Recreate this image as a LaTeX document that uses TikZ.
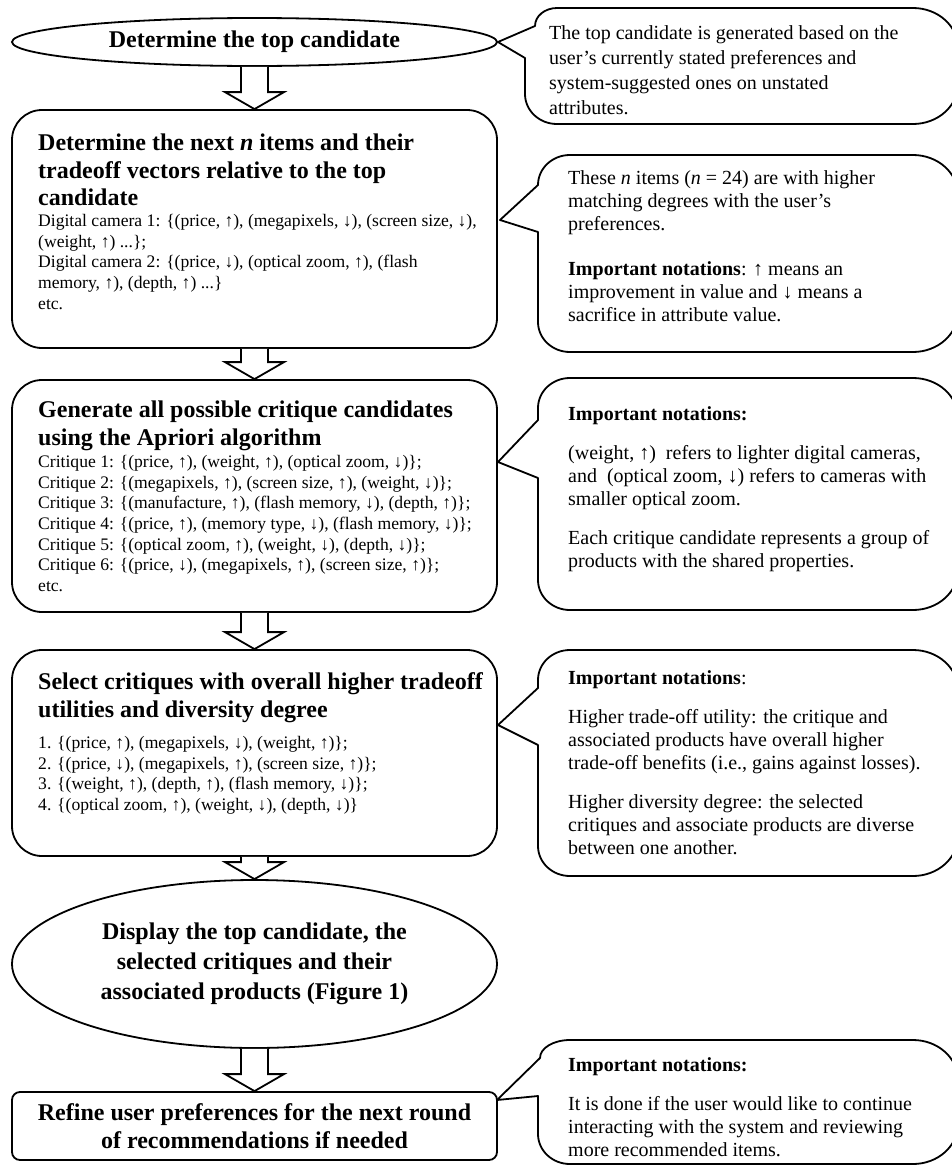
\documentclass[tikz,border=0pt]{standalone}
\usepackage{fontspec}
\setmainfont{Liberation Serif}
\usetikzlibrary{shapes.geometric,calc}
\tikzset{
  flowbox/.style={draw, line width=1.8pt, rounded corners=30pt, minimum width=485pt, inner sep=0pt},
  ellbox/.style={draw, ellipse, line width=1.8pt, minimum width=485pt, inner sep=0pt, align=center},
  titletext/.style={anchor=north west, inner sep=0pt, align=left, font=\fontsize{24}{27.6}\selectfont\bfseries},
  bodytext/.style={anchor=north west, inner sep=0pt, align=left, font=\fontsize{17.6}{20.7}\selectfont},
  notetext/.style={anchor=north west, inner sep=0pt, align=left, font=\fontsize{20}{23}\selectfont},
  co/.style={draw, line width=1.8pt, line join=round},
  blk/.style={draw, line width=1.8pt, line join=miter, fill=white},
}
\newcommand\blkarrow[2]{%
  \draw[blk] let \p1=(#1.south), \p2=(#2.north) in
    (\x1-13.5,\y1) -- (\x1-13.5,\y2+17) -- (\x1-29.5,\y2+17) -- (\x2,\y2)
    -- (\x1+29.5,\y2+17) -- (\x1+13.5,\y2+17) -- (\x1+13.5,\y1);}
\begin{document}
\begin{tikzpicture}[x=1pt,y=-1pt]
\useasboundingbox (0,0) rectangle (952,1167);

% ---------- left column ----------
\node[ellbox, minimum height=48pt, font=\fontsize{24}{27.6}\selectfont\bfseries] (e1) at (254.5,42) {Determine the top candidate};

\node[flowbox, minimum height=238pt] (b2) at (254.5,229) {};
\node[titletext] (b2t) at (38,133.6) {Determine the next \textit{n} items and their\\tradeoff vectors relative to the top\\candidate};
\node[bodytext] (b2b) at (38,214) {Digital camera 1: \{(price, ↑), (megapixels, ↓), (screen size, ↓),\\(weight, ↑) ...\};\\Digital camera 2: \{(price, ↓), (optical zoom, ↑), (flash\\memory, ↑), (depth, ↑) ...\}\\etc.};

\node[flowbox, minimum height=232pt] (b3) at (254.5,496) {};
\node[titletext] (b3t) at (38,401) {Generate all possible critique candidates\\using the Apriori algorithm};
\node[bodytext] (b3b) at (38,455) {Critique 1: \{(price, ↑), (weight, ↑), (optical zoom, ↓)\};\\
Critique 2: \{(megapixels, ↑), (screen size, ↑), (weight, ↓)\};\\
Critique 3: \{(manufacture, ↑), (flash memory, ↓), (depth, ↑)\};\\
Critique 4: \{(price, ↑), (memory type, ↓), (flash memory, ↓)\};\\
Critique 5: \{(optical zoom, ↑), (weight, ↓), (depth, ↓)\};\\
Critique 6: \{(price, ↓), (megapixels, ↑), (screen size, ↑)\};\\
etc.};

\node[flowbox, minimum height=206pt] (b4) at (254.5,753) {};
\node[titletext] (b4t) at (38,672.6) {Select critiques with overall higher tradeoff\\utilities and diversity degree};
\node[bodytext] (b4b) at (38,736) {\makebox[19pt][l]{1.}\{(price, ↑), (megapixels, ↓), (weight, ↑)\};\\
\makebox[19pt][l]{2.}\{(price, ↓), (megapixels, ↑), (screen size, ↑)\};\\
\makebox[19pt][l]{3.}\{(weight, ↑), (depth, ↑), (flash memory, ↓)\};\\
\makebox[19pt][l]{4.}\{(optical zoom, ↑), (weight, ↓), (depth, ↓)\}};

\node[ellbox, minimum height=168pt, font=\fontsize{24}{30}\selectfont\bfseries] (e2) at (254.5,964) {Display the top candidate, the\\selected critiques and their\\associated products (Figure 1)};

\node[flowbox, rounded corners=8pt, minimum height=68pt, align=center, font=\fontsize{24}{28}\selectfont\bfseries] (b6) at (254.5,1126) {Refine user preferences for the next round\\of recommendations if needed};

\blkarrow{e1}{b2}
\blkarrow{b2}{b3}
\blkarrow{b3}{b4}
\blkarrow{b4}{e2}
\blkarrow{e2}{b6}

% ---------- callouts ----------
\draw[co] (535,26) .. controls (535,16) and (545,8) .. (557,8) -- (913,8)
  .. controls (937.8,8) and (958,25.9) .. (958,48) -- (958,84)
  .. controls (958,106.1) and (937.8,124) .. (913,124) -- (557,124)
  .. controls (539.3,124) and (525,110.6) .. (525,94) -- (525,58) -- (e1.east) -- cycle;
\node[notetext, font=\fontsize{20}{25}\selectfont] (n1) at (549,25) {The top candidate is generated based on the\\user’s currently stated preferences and\\system-suggested ones on unstated\\attributes.};

\coordinate (t2) at (500,220);
\draw[co] (538,185) .. controls (538,168.4) and (552.3,155) .. (570,155) -- (913,155)
  .. controls (937.8,155) and (958,172.9) .. (958,195) -- (958,312)
  .. controls (958,334.1) and (937.8,352) .. (913,352) -- (570,352)
  .. controls (552.3,352) and (538,338.6) .. (538,322) -- (538,232) -- (t2) -- cycle;
\node[notetext] (n2) at (568,170) {These \textit{n} items (\textit{n} = 24) are with higher\\matching degrees with the user’s\\preferences.\\[22pt]\textbf{Important notations}: ↑ means an\\improvement in value and ↓ means a\\sacrifice in attribute value.};

\coordinate (t3) at (498,462);
\draw[co] (538,420) -- (538,408) .. controls (538,391.4) and (552.3,378) .. (570,378) -- (913,378)
  .. controls (937.8,378) and (958,395.9) .. (958,418) -- (958,570)
  .. controls (958,592.1) and (937.8,610) .. (913,610) -- (570,610)
  .. controls (552.3,610) and (538,596.6) .. (538,580) -- (538,478) -- (t3) -- cycle;
\node[notetext] (n3) at (568,406) {\textbf{Important notations:}\\[16pt](weight, ↑)\ \ refers to lighter digital cameras,\\and\ \ (optical zoom, ↓) refers to cameras with\\smaller optical zoom.\\[16pt]Each critique candidate represents a group of\\products with the shared properties.};

\coordinate (t4) at (498,725);
\draw[co] (538,688) -- (538,680) .. controls (538,663.4) and (552.3,650) .. (570,650) -- (913,650)
  .. controls (937.8,650) and (958,667.9) .. (958,690) -- (958,836)
  .. controls (958,858.1) and (937.8,876) .. (913,876) -- (570,876)
  .. controls (552.3,876) and (538,862.6) .. (538,846) -- (538,745) -- (t4) -- cycle;
\node[notetext] (n4) at (568,670) {\textbf{Important notations}:\\[16pt]Higher trade-off utility: the critique and\\associated products have overall higher\\trade-off benefits (i.e., gains against losses).\\[16pt]Higher diversity degree: the selected\\critiques and associate products are diverse\\between one another.};

\coordinate (t5) at (497,1100);
\draw[co] (540,1058) .. controls (540,1048) and (553.5,1040) .. (570,1040) -- (913,1040)
  .. controls (937.8,1040) and (958,1057.9) .. (958,1080) -- (958,1124)
  .. controls (958,1146.1) and (937.8,1164) .. (913,1164) -- (570,1164)
  .. controls (552.3,1164) and (538,1150.6) .. (538,1134) -- (538,1096) -- (t5) -- cycle;
\node[notetext] (n5) at (568,1057) {\textbf{Important notations:}\\[16pt]It is done if the user would like to continue\\interacting with the system and reviewing\\more recommended items.};
\end{tikzpicture}
\end{document}
